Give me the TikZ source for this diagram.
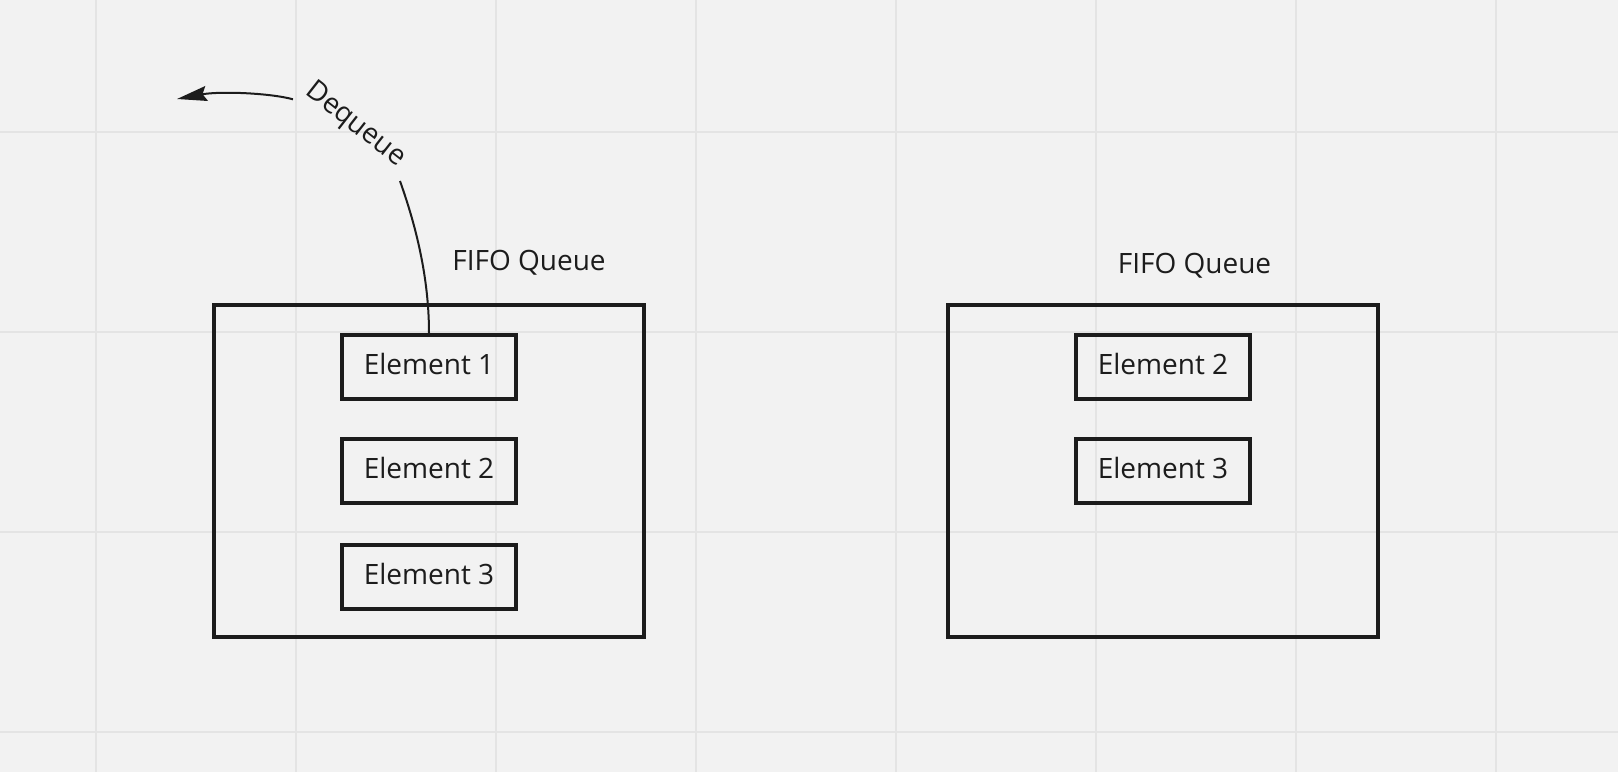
\documentclass[tikz,border=0pt]{standalone}
\usepackage{fontspec}
\setmainfont{Open Sans}
\usetikzlibrary{arrows.meta}
\definecolor{bgc}{HTML}{F2F2F2}
\definecolor{gridc}{HTML}{E4E4E4}
\definecolor{ink}{HTML}{1C1C1C}
\begin{document}
\begin{tikzpicture}[x=0.5pt,y=-0.5pt,
  gridline/.style={draw=gridc, line width=1pt},
  queuebox/.style={draw=ink, line width=1.8pt, minimum width=215pt, minimum height=166pt, inner sep=0pt},
  elembox/.style={draw=ink, line width=1.8pt, minimum width=87pt, minimum height=32pt, inner sep=0pt,
    text=ink, font=\fontsize{14pt}{17pt}\selectfont, text height=10pt, text depth=2.7pt},
  lbl/.style={text=ink, font=\fontsize{14pt}{17pt}\selectfont, inner sep=0pt},
  conn/.style={draw=ink, line width=1pt}]
\path[use as bounding box, fill=bgc] (0,0) rectangle (1618,772);
\foreach \x in {96,296,...,1496} \draw[gridline] (\x,0) -- (\x,772);
\foreach \y in {132,332,532,732} \draw[gridline] (0,\y) -- (1618,\y);
% queues
\node[queuebox] (q1) at (429,471) {};
\node[queuebox] (q2) at (1163,471) {};
\node[elembox] (e1) at (429,367) {Element 1};
\node[elembox] (e2) at (429,471) {Element 2};
\node[elembox] (e3) at (429,577) {Element 3};
\node[elembox] (r2) at (1163,367) {Element 2};
\node[elembox] (r3) at (1163,471) {Element 3};
\node[lbl, anchor=base] (t1) at (529,270.7) {FIFO Queue};
\node[lbl, anchor=base] (t2) at (1194.5,273) {FIFO Queue};
% dequeue connector
\node[lbl, rotate=-38] (dq) at (355,125) {Dequeue};
\coordinate (g1) at (400,181);
\coordinate (g2) at (293,99.3);
\coordinate (tip) at (177,99);
\draw[conn] (e1.north) .. controls (429,270) and (412,215) .. (g1);
\draw[conn, -{Stealth[length=15pt,width=7.5pt,inset=2pt]}] (g2) .. controls (270,93) and (220,91) .. (tip);
\end{tikzpicture}
\end{document}
